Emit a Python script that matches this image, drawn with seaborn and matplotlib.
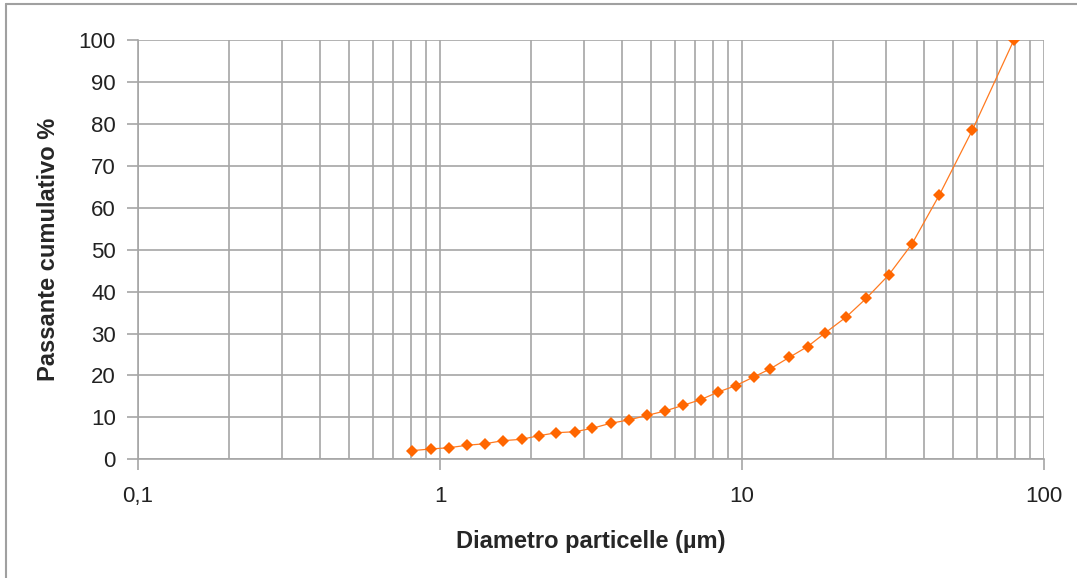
import matplotlib
matplotlib.use("Agg")
import matplotlib.pyplot as plt
import matplotlib.ticker as mticker
from matplotlib.lines import Line2D
import seaborn as sns
import pandas as pd

diameter_um = [0.805, 0.931, 1.074, 1.226, 1.41, 1.615, 1.862, 2.127, 2.43, 2.80,
               3.19, 3.67, 4.21, 4.86, 5.56, 6.38, 7.29, 8.34, 9.52, 10.93,
               12.42, 14.33, 16.5, 18.9, 22.1, 25.8, 30.6, 36.5, 45.0, 57.9, 79.5]
passing_pct = [2.05, 2.46, 2.77, 3.34, 3.72, 4.44, 4.77, 5.63, 6.34, 6.58,
               7.39, 8.59, 9.37, 10.49, 11.52, 12.88, 14.21, 16.05, 17.55, 19.63,
               21.6, 24.3, 26.9, 30.2, 33.9, 38.4, 43.95, 51.3, 63.0, 78.5, 100.0]
x_tick_values = [0.1, 1, 10, 100]
x_tick_labels = ["0,1", "1", "10", "100"]
y_tick_values = list(range(0, 101, 10))

df = pd.DataFrame({"d": diameter_um, "p": passing_pct})

sns.set_style("white")
plt.rcParams["font.family"] = ["Liberation Sans", "DejaVu Sans"]

W, H = 1077, 578
fig = plt.figure(figsize=(W / 100, H / 100), dpi=100)
ax = fig.add_axes([138 / W, 1 - 459.3 / H, (1044 - 138) / W, (459.3 - 40) / H])

grid_c = "#a6a6a6"
orange = "#ff6600"

sns.lineplot(data=df, x="d", y="p", ax=ax, color="#ff7a20", linewidth=0.9,
             marker="D", markersize=6.5, markeredgewidth=0, markerfacecolor=orange,
             zorder=3)

ax.set_xscale("log")
ax.set_xlim(0.1, 100)
ax.set_ylim(0, 100)

ax.xaxis.set_major_locator(mticker.FixedLocator(x_tick_values))
ax.xaxis.set_major_formatter(mticker.FixedFormatter(x_tick_labels))
ax.xaxis.set_minor_locator(mticker.LogLocator(base=10, subs=range(2, 10)))
ax.xaxis.set_minor_formatter(mticker.NullFormatter())
ax.set_yticks(y_tick_values)

ax.grid(True, which="major", axis="both", color=grid_c, linewidth=1.2)
ax.grid(True, which="minor", axis="x", color=grid_c, linewidth=1.2)
ax.set_axisbelow(True)

for s in ["top", "right"]:
    ax.spines[s].set_visible(False)
for s in ["left", "bottom"]:
    ax.spines[s].set_color(grid_c)
    ax.spines[s].set_linewidth(1.2)

ax.tick_params(axis="x", which="major", direction="out", length=8, width=1.2,
               color=grid_c, labelsize=16, labelcolor="#222222", pad=11, bottom=True)
ax.tick_params(axis="x", which="minor", length=0)
ax.tick_params(axis="y", which="major", direction="out", length=8, width=1.2,
               color=grid_c, labelsize=16, labelcolor="#222222", pad=8, left=True)

ax.set_xlabel("Diametro particelle (µm)", fontsize=17, fontweight="bold", labelpad=17)
ax.set_ylabel("Passante cumulativo %", fontsize=17, fontweight="bold", labelpad=13)

# outer chart border (top and left visible)
fig.add_artist(Line2D([6 / W, 6 / W], [0, 1 - 4 / H], transform=fig.transFigure,
                      color="#a0a0a0", linewidth=1.5))
fig.add_artist(Line2D([6 / W, 1], [1 - 4 / H, 1 - 4 / H], transform=fig.transFigure,
                      color="#a0a0a0", linewidth=1.5))

fig.savefig("out.png", dpi=100, facecolor="white")
